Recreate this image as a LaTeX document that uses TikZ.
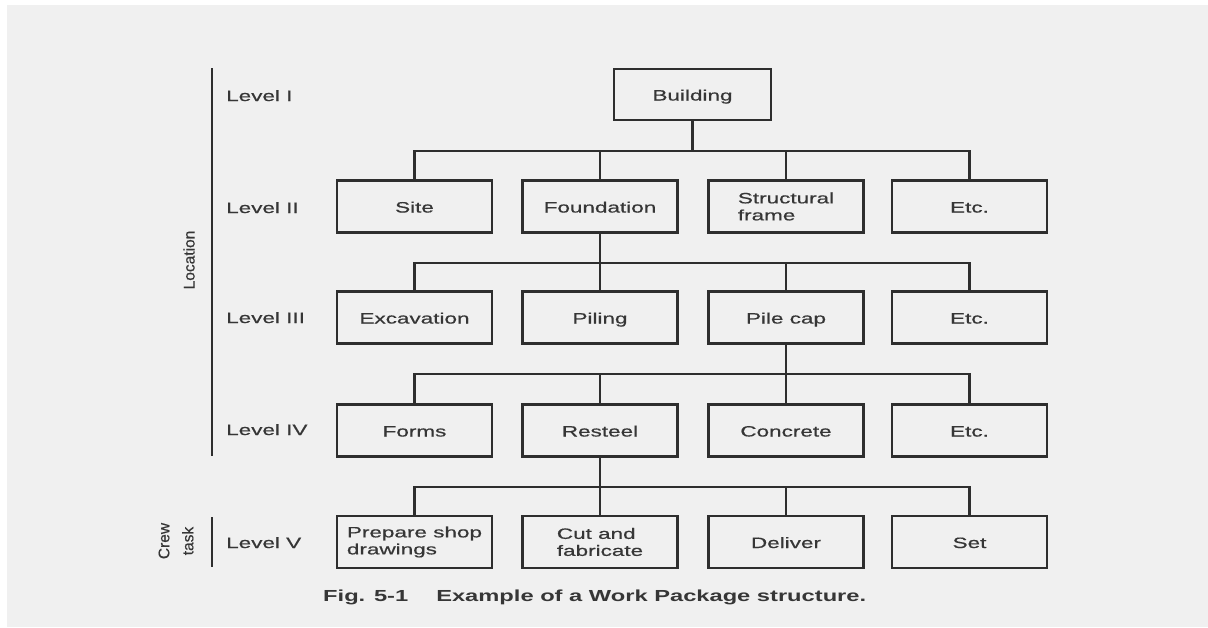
\documentclass[tikz,border=0pt]{standalone}
\usepackage{fontspec}
\setmainfont{Liberation Sans}
\setsansfont{Liberation Sans}
\newfontfamily\widefont[FakeStretch=1.5,FakeBold=0.6]{Liberation Sans}
\newfontfamily\capfont[FakeStretch=1.48]{Liberation Sans}
\newfontfamily\sidefont[FakeBold=0.4]{Liberation Sans}
\definecolor{paper}{HTML}{F0F0F0}
\definecolor{ink}{HTML}{2E2E2E}
\definecolor{txt}{HTML}{363636}
\tikzset{
  wbox/.style={draw=ink, line width=2.2pt, minimum width=155pt, minimum height=52pt,
    inner sep=0pt, align=left, text=txt, font=\widefont\fontsize{15}{17}\selectfont},
  one/.style={wbox, text height=12pt, text depth=0pt},
  link/.style={draw=ink, line width=2.4pt},
  lvl/.style={anchor=west, text=txt, inner sep=0pt, text height=12pt, text depth=0pt,
    font=\widefont\fontsize{15}{17}\selectfont},
  side/.style={rotate=90, text=txt, inner sep=0pt, align=center, font=\sidefont\fontsize{15.5}{24}\selectfont},
  axis/.style={draw=ink, line width=2.2pt}
}
\begin{document}
\begin{tikzpicture}[x=1pt, y=-1pt]
  % page
  \useasboundingbox (0,0) rectangle (1208,627);
  \fill[white] (0,0) rectangle (1208,627);
  \fill[paper] (7,5) rectangle (1208,627);

  % level axis
  \coordinate (locA) at (212,68);
  \coordinate (locB) at (212,456);
  \coordinate (crwA) at (212,517);
  \coordinate (crwB) at (212,567);
  \draw[axis] (locA) -- (locB);
  \draw[axis] (crwA) -- (crwB);
  \node[side] (loc) at (189,260) {Location};
  \node[side] (crew) at (176,541) {Crew\\task};

  % level labels
  \node[lvl] (l1) at (226,95) {Level I};
  \node[lvl] (l2) at (226,207) {Level II};
  \node[lvl] (l3) at (226,317) {Level III};
  \node[lvl] (l4) at (226,429) {Level IV};
  \node[lvl] (l5) at (226,542) {Level V};

  % level I
  \node[one, minimum width=157pt, minimum height=51pt] (bld) at (692.5,94.5) {Building};
  % level II
  \node[one]  (site) at (414.5,206.5) {Site};
  \node[one]  (fnd)  at (600,206.5) {Foundation};
  \node[wbox] (sfr)  at (786,206.5) {Structural\\frame};
  \node[one]  (etc2) at (969.5,206.5) {Etc.};
  % level III
  \node[one] (exc)  at (414.5,317.5) {Excavation};
  \node[one] (pil)  at (600,317.5) {Piling};
  \node[one] (pcap) at (786,317.5) {Pile cap};
  \node[one] (etc3) at (969.5,317.5) {Etc.};
  % level IV
  \node[one] (frm)  at (414.5,430.5) {Forms};
  \node[one] (rst)  at (600,430.5) {Resteel};
  \node[one] (conc) at (786,430.5) {Concrete};
  \node[one] (etc4) at (969.5,430.5) {Etc.};
  % level V
  \node[wbox] (shop) at (414.5,542) {Prepare shop\\drawings};
  \node[wbox] (cut)  at (600,542) {Cut and\\fabricate};
  \node[one]  (dlv)  at (786,542) {Deliver};
  \node[one]  (set)  at (969.5,542) {Set};

  % connector buses
  \coordinate (bus1) at (692.5,151);
  \coordinate (bus2) at (600,263);
  \coordinate (bus3) at (786,374);
  \coordinate (bus4) at (600,487);

  \draw[link] (bld.south) -- (bus1);
  \draw[link] (site.north) |- (bus1) -| (etc2.north);
  \draw[link] (fnd.north) -- (fnd.north |- bus1);
  \draw[link] (sfr.north) -- (sfr.north |- bus1);

  \draw[link] (fnd.south) -- (bus2);
  \draw[link] (exc.north) |- (bus2) -| (etc3.north);
  \draw[link] (pil.north) -- (pil.north |- bus2);
  \draw[link] (pcap.north) -- (pcap.north |- bus2);

  \draw[link] (pcap.south) -- (bus3);
  \draw[link] (frm.north) |- (bus3) -| (etc4.north);
  \draw[link] (rst.north) -- (rst.north |- bus3);
  \draw[link] (conc.north) -- (conc.north |- bus3);

  \draw[link] (rst.south) -- (bus4);
  \draw[link] (shop.north) |- (bus4) -| (set.north);
  \draw[link] (cut.north) -- (cut.north |- bus4);
  \draw[link] (dlv.north) -- (dlv.north |- bus4);

  % caption
  \node[anchor=west, inner sep=0pt, text=txt, font=\capfont\bfseries\fontsize{16}{18}\selectfont] (cap) at (323,597)
    {Fig. 5-1\hspace{28pt}Example of a Work Package structure.};
\end{tikzpicture}
\end{document}
